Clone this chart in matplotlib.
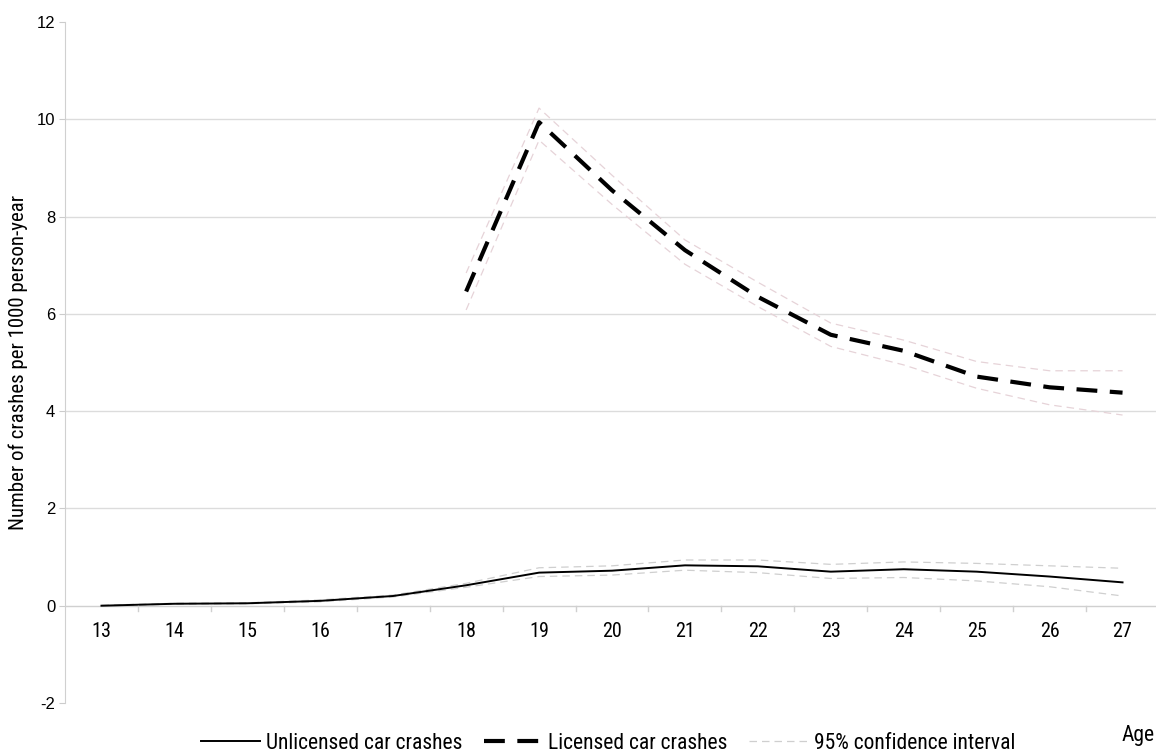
import matplotlib
matplotlib.use("Agg")
import matplotlib.pyplot as plt
from matplotlib.ticker import FixedLocator, NullFormatter

# Data
ages = list(range(13, 28))
unlicensed = [0.0, 0.04, 0.05, 0.10, 0.20, 0.42, 0.68, 0.72, 0.83, 0.81, 0.70, 0.75, 0.70, 0.60, 0.48]
unlicensed_hi = [0.01, 0.05, 0.06, 0.12, 0.22, 0.46, 0.78, 0.82, 0.94, 0.94, 0.85, 0.90, 0.87, 0.82, 0.77]
unlicensed_lo = [0.0, 0.03, 0.04, 0.08, 0.18, 0.38, 0.60, 0.63, 0.73, 0.68, 0.56, 0.58, 0.51, 0.39, 0.20]

licensed_ages = list(range(18, 28))
licensed = [6.46, 9.94, 8.54, 7.31, 6.35, 5.57, 5.24, 4.71, 4.49, 4.38]
licensed_hi = [6.84, 10.23, 8.85, 7.52, 6.65, 5.81, 5.46, 5.02, 4.83, 4.83]
licensed_lo = [6.08, 9.57, 8.25, 7.02, 6.15, 5.33, 4.95, 4.47, 4.13, 3.92]

y_ticks = [-2, 0, 2, 4, 6, 8, 10, 12]

narrow = ["Roboto Condensed", "Liberation Sans", "DejaVu Sans"]
plt.rcParams["font.family"] = ["Liberation Sans", "DejaVu Sans"]

fig = plt.figure(figsize=(11.56, 7.55), dpi=100)
ax = fig.add_axes([65 / 1156, 52 / 755, 1094 / 1156, 681 / 755])

# gridlines (only positive values, like the original)
for v in y_ticks:
    if 0 < v < 12:
        ax.axhline(v, color="#dcdcdc", lw=1.0, zorder=0)
ax.axhline(0, color="#d0d0d0", lw=1.0, zorder=0)

ci_u = ax.plot(ages, unlicensed_hi, color="#cfcfcf", lw=0.9, ls=(0, (6, 4)))[0]
ax.plot(ages, unlicensed_lo, color="#cfcfcf", lw=0.9, ls=(0, (6, 4)))
ax.plot(licensed_ages, licensed_hi, color="#e6d3d8", lw=0.9, ls=(0, (6, 4)))
ax.plot(licensed_ages, licensed_lo, color="#e6d3d8", lw=0.9, ls=(0, (6, 4)))

l1 = ax.plot(ages, unlicensed, color="black", lw=1.4)[0]
l2 = ax.plot(licensed_ages, licensed, color="black", lw=3.0, ls=(0, (5, 3)))[0]

ax.set_xlim(12.5, 27.5)
ax.set_ylim(-2, 12)
ax.set_yticks(y_ticks)
ax.set_yticklabels([str(v) for v in y_ticks], fontsize=12)
ax.tick_params(axis="y", length=4, color="#cccccc", pad=3)

# category axis: ticks between categories, labels below the zero line
ax.xaxis.set_major_locator(FixedLocator([a + 0.5 for a in ages[:-1]]))
ax.xaxis.set_major_formatter(NullFormatter())
ax.tick_params(axis="x", length=0)
for a in ages:
    ax.text(a, -0.52, str(a), ha="center", va="center", fontsize=14.5, family=narrow)
for a in ages[:-1]:
    ax.plot([a + 0.5, a + 0.5], [0, -0.1], color="#d0d0d0", lw=1.0)

for s in ["top", "right", "bottom"]:
    ax.spines[s].set_visible(False)
ax.spines["left"].set_color("#d0d0d0")

ax.set_ylabel("Number of crashes per 1000 person-year", fontsize=15, family=narrow, labelpad=6)

fig.legend([l1, l2, ci_u], ["Unlicensed car crashes", "Licensed car crashes", "95% confidence interval"],
           loc="lower left", bbox_to_anchor=(182 / 1156, -0.024), ncol=3, frameon=False,
           handlelength=2.7, handletextpad=0.3, columnspacing=1.0,
           prop={"family": narrow, "size": 15.5})
fig.text(1138 / 1156, 1 - 735 / 755, "Age", ha="center", va="center", fontsize=15.5, family=narrow)

fig.savefig("out.png", dpi=100)
